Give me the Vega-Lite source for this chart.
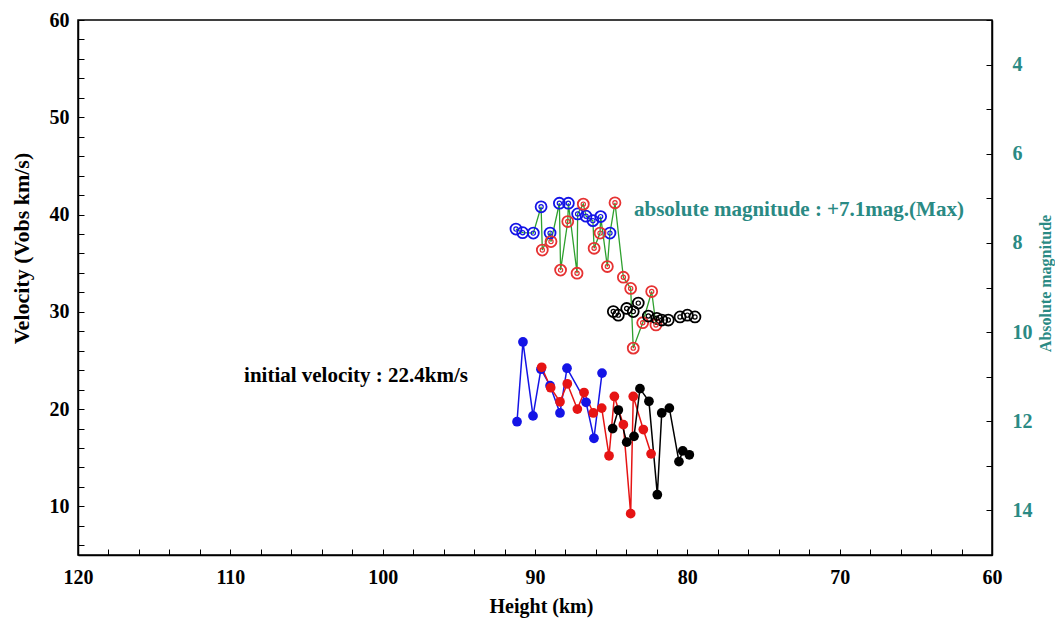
{
  "$schema": "https://vega.github.io/schema/vega-lite/v6.json",
  "width": 914,
  "height": 535,
  "autosize": "none",
  "padding": {"left": 78, "top": 20, "right": 63, "bottom": 67},
  "background": "white",
  "config": {
    "view": {"stroke": "black", "strokeWidth": 1.5},
    "font": "Liberation Serif"
  },
  "datasets": {
    "vel": [
      {"h": 91.18, "v": 18.7, "s": "blue"},
      {"h": 90.79, "v": 26.9, "s": "blue"},
      {"h": 90.13, "v": 19.3, "s": "blue"},
      {"h": 89.61, "v": 24.1, "s": "blue"},
      {"h": 89.01, "v": 22.4, "s": "blue"},
      {"h": 88.36, "v": 19.6, "s": "blue"},
      {"h": 87.90, "v": 24.2, "s": "blue"},
      {"h": 86.65, "v": 20.7, "s": "blue"},
      {"h": 86.13, "v": 17.0, "s": "blue"},
      {"h": 85.60, "v": 23.7, "s": "blue"},
      {"h": 89.56, "v": 24.3, "s": "red"},
      {"h": 88.97, "v": 22.2, "s": "red"},
      {"h": 88.36, "v": 20.75, "s": "red"},
      {"h": 87.88, "v": 22.6, "s": "red"},
      {"h": 87.22, "v": 20.0, "s": "red"},
      {"h": 86.78, "v": 21.7, "s": "red"},
      {"h": 86.17, "v": 19.6, "s": "red"},
      {"h": 85.62, "v": 20.1, "s": "red"},
      {"h": 85.14, "v": 15.2, "s": "red"},
      {"h": 84.79, "v": 21.3, "s": "red"},
      {"h": 84.20, "v": 18.4, "s": "red"},
      {"h": 83.72, "v": 9.25, "s": "red"},
      {"h": 83.55, "v": 21.3, "s": "red"},
      {"h": 82.89, "v": 17.9, "s": "red"},
      {"h": 82.38, "v": 15.4, "s": "red"},
      {"h": 84.90, "v": 18.0, "s": "black"},
      {"h": 84.53, "v": 19.9, "s": "black"},
      {"h": 83.98, "v": 16.6, "s": "black"},
      {"h": 83.50, "v": 17.2, "s": "black"},
      {"h": 83.11, "v": 22.1, "s": "black"},
      {"h": 82.52, "v": 20.8, "s": "black"},
      {"h": 81.97, "v": 11.2, "s": "black"},
      {"h": 81.68, "v": 19.6, "s": "black"},
      {"h": 81.18, "v": 20.1, "s": "black"},
      {"h": 80.55, "v": 14.6, "s": "black"},
      {"h": 80.30, "v": 15.7, "s": "black"},
      {"h": 79.87, "v": 15.3, "s": "black"}
    ],
    "mag": [
      {"h": 91.25, "m": 7.69, "s": "blue"},
      {"h": 90.81, "m": 7.77, "s": "blue"},
      {"h": 90.11, "m": 7.78, "s": "blue"},
      {"h": 89.60, "m": 7.19, "s": "blue"},
      {"h": 89.01, "m": 7.78, "s": "blue"},
      {"h": 88.40, "m": 7.11, "s": "blue"},
      {"h": 87.81, "m": 7.11, "s": "blue"},
      {"h": 87.20, "m": 7.35, "s": "blue"},
      {"h": 86.65, "m": 7.40, "s": "blue"},
      {"h": 86.20, "m": 7.50, "s": "blue"},
      {"h": 85.69, "m": 7.41, "s": "blue"},
      {"h": 85.08, "m": 7.78, "s": "blue"},
      {"h": 89.52, "m": 8.16, "s": "red"},
      {"h": 88.95, "m": 7.97, "s": "red"},
      {"h": 88.32, "m": 8.61, "s": "red"},
      {"h": 87.85, "m": 7.52, "s": "red"},
      {"h": 87.24, "m": 8.68, "s": "red"},
      {"h": 86.83, "m": 7.13, "s": "red"},
      {"h": 86.12, "m": 8.12, "s": "red"},
      {"h": 85.73, "m": 7.78, "s": "red"},
      {"h": 85.25, "m": 8.53, "s": "red"},
      {"h": 84.75, "m": 7.10, "s": "red"},
      {"h": 84.20, "m": 8.77, "s": "red"},
      {"h": 83.72, "m": 9.02, "s": "red"},
      {"h": 83.55, "m": 10.36, "s": "red"},
      {"h": 82.93, "m": 9.79, "s": "red"},
      {"h": 82.34, "m": 9.09, "s": "red"},
      {"h": 82.06, "m": 9.84, "s": "red"},
      {"h": 84.86, "m": 9.54, "s": "black"},
      {"h": 84.53, "m": 9.62, "s": "black"},
      {"h": 83.98, "m": 9.47, "s": "black"},
      {"h": 83.55, "m": 9.54, "s": "black"},
      {"h": 83.22, "m": 9.35, "s": "black"},
      {"h": 82.56, "m": 9.64, "s": "black"},
      {"h": 82.01, "m": 9.69, "s": "black"},
      {"h": 81.68, "m": 9.73, "s": "black"},
      {"h": 81.25, "m": 9.73, "s": "black"},
      {"h": 80.48, "m": 9.66, "s": "black"},
      {"h": 80.00, "m": 9.62, "s": "black"},
      {"h": 79.50, "m": 9.66, "s": "black"}
    ],
    "notes": [
      {"h": 109.1, "v": 23.45, "label": "initial velocity : 22.4km/s", "kind": "vel"},
      {"h": 83.5, "v": 40.5, "label": "absolute magnitude : +7.1mag.(Max)", "kind": "mag"}
    ]
  },
  "encoding": {
    "x": {
      "field": "h",
      "type": "quantitative",
      "scale": {"domain": [60, 120], "reverse": true, "nice": false, "zero": false},
      "axis": {
        "title": "Height (km)",
        "values": [60,62,64,66,68,70,72,74,76,78,80,82,84,86,88,90,92,94,96,98,100,102,104,106,108,110,112,114,116,118,120],
        "labelExpr": "datum.value % 10 === 0 ? datum.label : ''",
        "tickSize": -6,
        "tickColor": "black",
        "tickWidth": 1,
        "domainColor": "black",
        "domainWidth": 1.5,
        "grid": false,
        "labelOverlap": false,
        "labelFlush": false,
        "labelFont": "Liberation Serif",
        "labelFontSize": 20,
        "labelFontWeight": "bold",
        "labelColor": "black",
        "labelPadding": 18,
        "titleFont": "Liberation Serif",
        "titleFontSize": 20,
        "titleFontWeight": "bold",
        "titleColor": "black",
        "titleX": 463,
        "titleY": 51,
        "titleBaseline": "middle",
        "titleAlign": "center"
      }
    }
  },
  "layer": [
    {
      "encoding": {
        "y": {
          "field": "v",
          "type": "quantitative",
          "scale": {"domain": [5, 60], "nice": false, "zero": false},
          "axis": {
            "title": "Velocity (Vobs km/s)",
            "values": [6,8,10,12,14,16,18,20,22,24,26,28,30,32,34,36,38,40,42,44,46,48,50,52,54,56,58,60],
            "labelExpr": "datum.value % 10 === 0 ? datum.label : ''",
            "tickSize": -6,
            "tickColor": "black",
            "tickWidth": 1,
            "domainColor": "black",
            "domainWidth": 1.5,
            "grid": false,
            "labelOverlap": false,
            "labelFlush": false,
            "labelFont": "Liberation Serif",
            "labelFontSize": 20,
            "labelFontWeight": "bold",
            "labelColor": "black",
            "labelPadding": 15,
            "titleFont": "Liberation Serif",
            "titleFontSize": 22,
            "titleFontWeight": "bold",
            "titleColor": "black",
            "titleX": -57,
            "titleY": 228,
            "titleAngle": -90,
            "titleBaseline": "middle",
            "titleAlign": "center"
          }
        }
      },
      "layer": [
        {
          "data": {"name": "vel"},
          "mark": {"type": "line", "strokeWidth": 1.5},
          "encoding": {
            "color": {"field": "s", "type": "nominal", "scale": {"domain": ["blue", "red", "black"], "range": ["#1414e6", "#e61414", "#000000"]}, "legend": null}
          }
        },
        {
          "data": {"name": "vel"},
          "mark": {"type": "circle", "size": 95, "opacity": 1},
          "encoding": {
            "color": {"field": "s", "type": "nominal", "scale": {"domain": ["blue", "red", "black"], "range": ["#1414e6", "#e61414", "#000000"]}, "legend": null}
          }
        },
        {
          "data": {"name": "notes"},
          "transform": [{"filter": "datum.kind === 'vel'"}],
          "mark": {"type": "text", "align": "left", "baseline": "middle", "font": "Liberation Serif", "fontSize": 21, "fontWeight": "bold", "color": "#000000"},
          "encoding": {
            "text": {"field": "label", "type": "nominal"}
          }
        },
        {
          "data": {"name": "notes"},
          "transform": [{"filter": "datum.kind === 'mag'"}],
          "mark": {"type": "text", "align": "left", "baseline": "middle", "font": "Liberation Serif", "fontSize": 21, "fontWeight": "bold", "color": "#2a8a84"},
          "encoding": {
            "text": {"field": "label", "type": "nominal"}
          }
        }
      ]
    },
    {
      "encoding": {
        "y": {
          "field": "m",
          "type": "quantitative",
          "scale": {"domain": [3, 15], "reverse": true, "nice": false, "zero": false},
          "axis": {
            "orient": "right",
            "title": "Absolute magnitude",
            "values": [3,4,5,6,7,8,9,10,11,12,13,14,15],
            "labelExpr": "datum.value % 2 === 0 && datum.value >= 4 && datum.value <= 14 ? datum.label : ''",
            "tickSize": -6,
            "tickColor": "black",
            "tickWidth": 1,
            "domainColor": "black",
            "domainWidth": 1.5,
            "grid": false,
            "labelOverlap": false,
            "labelFlush": false,
            "labelFont": "Liberation Serif",
            "labelFontSize": 20,
            "labelFontWeight": "bold",
            "labelColor": "#2a8a84",
            "labelPadding": 26,
            "titleFont": "Liberation Serif",
            "titleFontSize": 16,
            "titleFontWeight": "bold",
            "titleColor": "#2a8a84",
            "titleX": 53,
            "titleY": 263,
            "titleAngle": -90,
            "titleBaseline": "middle",
            "titleAlign": "center"
          }
        }
      },
      "layer": [
        {
          "data": {"name": "mag"},
          "transform": [{"filter": "datum.s !== 'black'"}],
          "mark": {"type": "line", "strokeWidth": 1.3, "color": "#2ea02e"}
        },
        {
          "data": {"name": "mag"},
          "mark": {"type": "point", "shape": "circle", "filled": false, "size": 120, "strokeWidth": 1.8, "opacity": 1},
          "encoding": {
            "color": {"field": "s", "type": "nominal", "scale": {"domain": ["blue", "red", "black"], "range": ["#1414e6", "#e63232", "#000000"]}, "legend": null}
          }
        },
        {
          "data": {"name": "mag"},
          "mark": {"type": "point", "shape": "circle", "filled": false, "size": 18, "strokeWidth": 1.2, "opacity": 1},
          "encoding": {
            "color": {"field": "s", "type": "nominal", "scale": {"domain": ["blue", "red", "black"], "range": ["#1414e6", "#e63232", "#000000"]}, "legend": null}
          }
        }
      ]
    }
  ],
  "resolve": {"scale": {"y": "independent", "color": "independent"}}
}
